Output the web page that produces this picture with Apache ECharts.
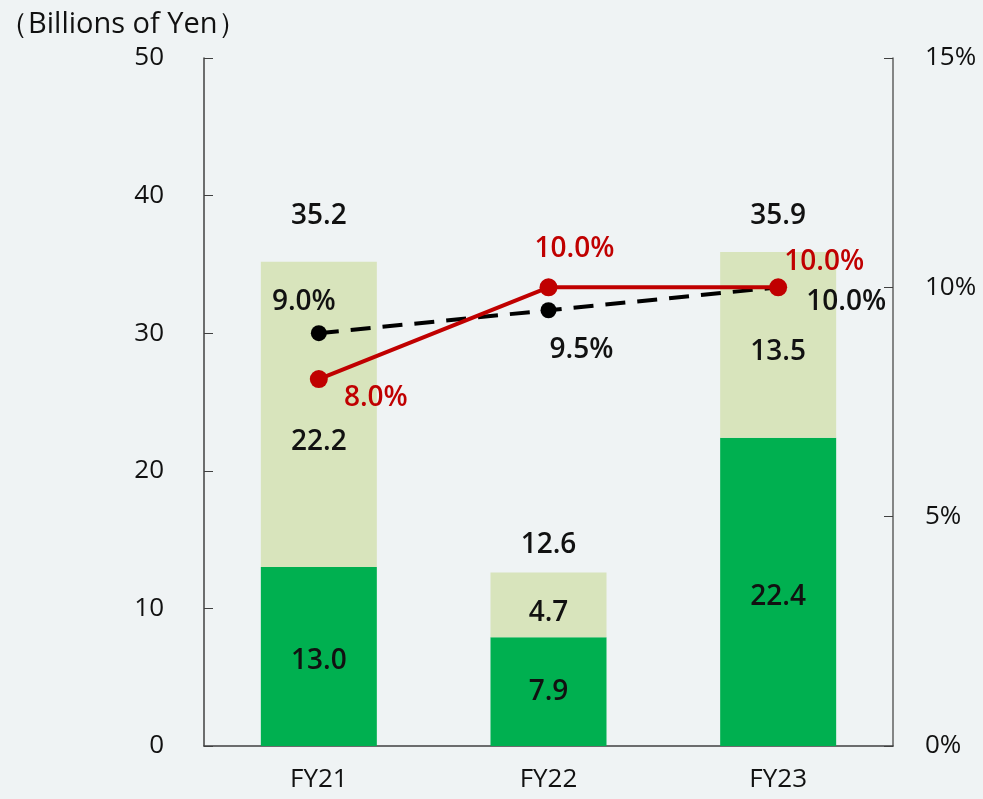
<!DOCTYPE html>
<html>
<head>
<meta charset="utf-8">
<script src="https://cdn.jsdelivr.net/npm/echarts@6/dist/echarts.min.js"></script>
<style>
  html, body { margin: 0; padding: 0; background: #eff3f4; }
  #chart { width: 983px; height: 799px; }
</style>
</head>
<body>
<div id="chart"></div>
<script>
// data
const categories = ['FY21', 'FY22', 'FY23'];
const lowerValues = [13.0, 7.9, 22.4];
const upperValues = [22.2, 4.7, 13.5];
const totals = [35.2, 12.6, 35.9];
const blackRates = [9.0, 9.5, 10.0];
const redRates = [8.0, 10.0, 10.0];

// label nudges (px) so labels sit where the reference has them
const lowerNudge = [[0, 4], [0, 0], [0, 5]];
const upperNudge = [[0, 28], [0, 8], [0, 7]];
const totalNudge = [[0, -46], [0, -28], [0, -36]];
const blackNudge = [[-15, -31], [33, 40], [68, 15]];
const redNudge = [[57, 19], [26, -38], [46, -25]];

const font = '"Open Sans", "Noto Sans", sans-serif';
const labelStyle = { fontSize: 28, fontFamily: font, fontWeight: 600 };
const axisFont = { fontSize: 26, fontFamily: font, color: '#111' };

function withLabels(values, nudges, fmt, color) {
    return values.map((v, i) => ({
        value: v,
        label: Object.assign({ show: true, position: 'inside', offset: nudges[i], color: color, formatter: fmt(v) }, labelStyle)
    }));
}

const chart = echarts.init(document.getElementById('chart'));

chart.setOption({
    backgroundColor: '#eff3f4',
    animation: false,
    title: {
        text: '（Billions of Yen）',
        left: -6, top: 5,
        textStyle: { fontSize: 29, fontWeight: 'normal', fontFamily: font, color: '#111' }
    },
    grid: { left: 204, right: 90, top: 58, bottom: 53 },
    xAxis: {
        type: 'category',
        data: categories,
        axisLine: { lineStyle: { color: '#404040', width: 1.5 } },
        axisTick: { inside: true, length: 12, lineStyle: { color: '#404040' } },
        axisLabel: Object.assign({ margin: 21 }, axisFont)
    },
    yAxis: [
        {
            type: 'value', min: 0, max: 50, interval: 10,
            splitLine: { show: false },
            axisLine: { show: true, lineStyle: { color: '#404040', width: 1.5 } },
            axisTick: { show: true, inside: true, length: 9, lineStyle: { color: '#404040' } },
            axisLabel: Object.assign({ margin: 40 }, axisFont)
        },
        {
            type: 'value', min: 0, max: 15, interval: 5,
            splitLine: { show: false },
            axisLine: { show: true, lineStyle: { color: '#606060', width: 1.5 } },
            axisTick: { show: true, inside: true, length: 9, lineStyle: { color: '#404040' } },
            axisLabel: Object.assign({ margin: 32, formatter: '{value}%' }, axisFont)
        }
    ],
    series: [
        {
            name: 'lower', type: 'bar', stack: 'total', barWidth: 116,
            itemStyle: { color: '#00b050' },
            data: withLabels(lowerValues, lowerNudge, v => v.toFixed(1), '#111')
        },
        {
            name: 'upper', type: 'bar', stack: 'total',
            itemStyle: { color: '#d8e4bc' },
            data: withLabels(upperValues, upperNudge, v => v.toFixed(1), '#111')
        },
        {
            name: 'totals', type: 'line', symbol: 'circle', symbolSize: 2,
            itemStyle: { color: 'transparent' },
            lineStyle: { opacity: 0 },
            z: 5,
            data: withLabels(totals, totalNudge, v => v.toFixed(1), '#111')
        },
        {
            name: 'black', type: 'line', yAxisIndex: 1,
            symbol: 'circle', symbolSize: 16,
            itemStyle: { color: '#000' },
            lineStyle: { color: '#000', width: 4, type: [20, 12] },
            data: withLabels(blackRates, blackNudge, v => v.toFixed(1) + '%', '#111')
        },
        {
            name: 'red', type: 'line', yAxisIndex: 1,
            symbol: 'circle', symbolSize: 18,
            itemStyle: { color: '#c00000' },
            lineStyle: { color: '#c00000', width: 4 },
            data: withLabels(redRates, redNudge, v => v.toFixed(1) + '%', '#c00000')
        }
    ]
});
</script>
</body>
</html>
